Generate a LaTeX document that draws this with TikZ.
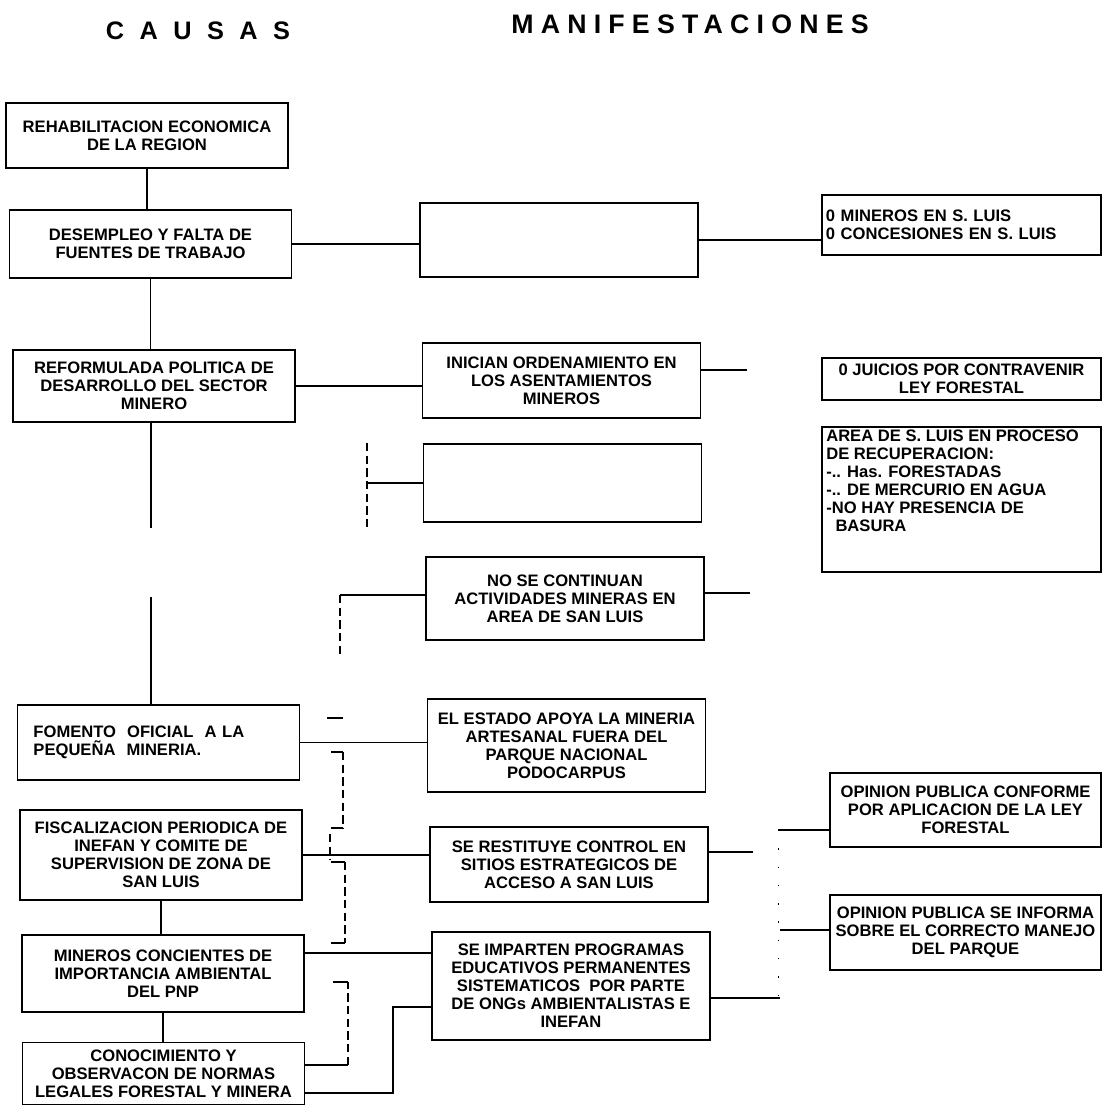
\documentclass[tikz,border=0pt]{standalone}
\usepackage{fontspec}
\setmainfont{Liberation Sans}
\usetikzlibrary{positioning,calc}

\begin{document}
\begin{tikzpicture}[
  x=0.025cm,y=-0.025cm,
  every node/.style={font=\fontsize{11.8}{12.8}\selectfont\bfseries},
  tit/.style ={font=\fontsize{18}{20}\selectfont\bfseries\addfontfeatures{LetterSpace=61}},
  tit2/.style={font=\fontsize{19}{21}\selectfont\bfseries\addfontfeatures{LetterSpace=27}},
  cau/.style ={draw,line width=1.1pt,align=center,minimum width=7.05cm,inner sep=1pt},
  man/.style ={draw,line width=1.1pt,align=center,minimum width=6.95cm,inner sep=1pt},
  ind/.style ={draw,line width=1.1pt,align=center,minimum width=6.975cm,inner sep=1pt},
  lnk/.style ={line width=0.9pt},
  brk/.style ={line width=0.9pt,dash pattern=on 6pt off 3pt},
  fnt/.style ={line width=0.7pt,dash pattern=on 1pt off 12pt}
]
\fill[white] (0,0) rectangle (1103,1106);
\useasboundingbox (0,0) rectangle (1103,1106);

\node[tit]  (tC) at (198,31) {CAUSAS};
\node[tit2] (tM) at (690,24) {MANIFESTACIONES};

\node[cau,minimum height=1.625cm] (C1) at (147,135.5) {REHABILITACION ECONOMICA\\DE LA REGION};
\node[cau,minimum height=1.7cm]   (C2) at (150.5,244) {DESEMPLEO Y FALTA DE\\FUENTES DE TRABAJO};
\node[cau,minimum height=1.8cm]   (C3) at (154,386) {REFORMULADA POLITICA DE\\DESARROLLO DEL SECTOR\\MINERO};
\node[cau,minimum height=1.875cm,align=left,text width=6.25cm,inner xsep=0.4cm]
      (C4) at (158.5,742.5) {FOMENTO\ \ OFICIAL\ \ A LA\\PEQUEÑA\ \ MINERIA.};
\node[cau,minimum height=2.25cm]  (C5) at (161,855) {FISCALIZACION PERIODICA DE\\INEFAN Y COMITE DE\\SUPERVISION DE ZONA DE\\SAN LUIS};
\node[cau,minimum height=1.925cm] (C6) at (163,973.5) {MINEROS CONCIENTES DE\\IMPORTANCIA AMBIENTAL\\DEL PNP};
\node[cau,minimum height=1.55cm]  (C7) at (163.5,1073.5) {CONOCIMIENTO Y\\OBSERVACON DE NORMAS\\LEGALES FORESTAL Y MINERA};

\node[man,minimum height=1.85cm]  (M1) at (559,240) {};
\node[man,minimum height=1.875cm] (M2) at (561.5,380.5) {INICIAN ORDENAMIENTO EN\\LOS ASENTAMIENTOS\\MINEROS};
\node[man,minimum height=1.95cm]  (M3) at (562.5,483) {};
\node[man,minimum height=2.075cm] (M4) at (565,598.5) {NO SE CONTINUAN\\ACTIVIDADES MINERAS EN\\AREA DE SAN LUIS};
\node[man,minimum height=2.325cm] (M5) at (566.5,745.5) {EL ESTADO APOYA LA MINERIA\\ARTESANAL FUERA DEL\\PARQUE NACIONAL\\PODOCARPUS};
\node[man,minimum height=1.875cm] (M6) at (569,864.5) {SE RESTITUYE CONTROL EN\\SITIOS ESTRATEGICOS DE\\ACCESO A SAN LUIS};
\node[man,minimum height=2.7cm]   (M7) at (571,986) {SE IMPARTEN PROGRAMAS\\EDUCATIVOS PERMANENTES\\SISTEMATICOS\ \ POR PARTE\\DE ONGs AMBIENTALISTAS E\\INEFAN};

\node[ind,minimum height=1.5cm,align=left,text width=6.775cm,inner xsep=0.1cm]
      (R1) at (961.5,225) {0 MINEROS EN S. LUIS\\0 CONCESIONES EN S. LUIS};
\node[ind,minimum height=1.05cm]  (R2) at (961.5,379) {0 JUICIOS POR CONTRAVENIR\\LEY FORESTAL};
\node[ind,minimum height=3.625cm] (R3) at (961.5,499.5) {};
\node[align=left,anchor=north west,inner xsep=0.12cm,inner ysep=0.08cm]
      (R3t) at (R3.north west) {AREA DE S. LUIS EN PROCESO\\DE RECUPERACION:\\-.. Has. FORESTADAS\\-.. DE MERCURIO EN AGUA\\-NO HAY PRESENCIA DE\\\ \ BASURA};
\node[ind,minimum width=6.775cm,minimum height=1.85cm]  (R4) at (965.5,810) {OPINION PUBLICA CONFORME\\POR APLICACION DE LA LEY\\FORESTAL};
\node[ind,minimum width=6.775cm,minimum height=1.875cm] (R5) at (965.5,932.5) {OPINION PUBLICA SE INFORMA\\SOBRE EL CORRECTO MANEJO\\DEL PARQUE};

\coordinate (g1) at (151,528);
\coordinate (g2) at (151,597);
\coordinate (s2) at (747,370);
\coordinate (b3) at (367,443);
\coordinate (b4) at (340,595);
\coordinate (s4) at (750,593);
\coordinate (s6) at (753,852);
\coordinate (k6) at (0,953);
\coordinate (k7a) at (393,1093);
\coordinate (k7b) at (393,1007);
\coordinate (k7c) at (348,1065);
\coordinate (s7) at (780,998);
\coordinate (r4) at (778,830);
\coordinate (r5) at (780,930);

\draw[lnk] (C1.south) -- (C1.south |- C2.north);
\draw[lnk] (C2.south) -- (C2.south |- C3.north);
\draw[lnk] (C3.south -| g1) -- (g1);
\draw[lnk] (g2) -- (g2 |- C4.north);
\draw[lnk] (C5.south) -- (C5.south |- C6.north);
\draw[lnk] (C6.south) -- (C6.south |- C7.north);

\draw[lnk] (C2.east) -- (C2.east -| M1.west);
\draw[lnk] (M1.east) -- (M1.east -| R1.west);
\draw[lnk] (C3.east) -- (C3.east -| M2.west);
\draw[lnk] (M2.east |- s2) -- (s2);
\draw[brk] (b3) -- ++(0,85);
\draw[lnk] (b3 |- M3.west) -- (M3.west);
\draw[brk] (b4) -- ++(0,62);
\draw[lnk] (b4) -- (b4 -| M4.west);
\draw[lnk] (M4.east |- s4) -- (s4);
\draw[lnk] (C4.east) -- (C4.east -| M5.west);
\draw[lnk] (C5.east) -- (C5.east -| M6.west);
\draw[lnk] (M6.east |- s6) -- (s6);
\draw[lnk] (C6.east |- k6) -- (k6 -| M7.west);
\draw[lnk] (C7.east |- k7a) -- (k7a) -- (k7b) -- (k7b -| M7.west);
\draw[lnk] (C7.east |- k7c) -- (k7c);
\draw[brk] (k7c) -- (348,982);
\draw[lnk] (348,982) -- (333,982);
\draw[lnk] (M7.east |- s7) -- (s7);
\draw[lnk] (r4) -- (r4 -| R4.west);
\draw[lnk] (r5) -- (r5 -| R5.west);
\draw[fnt] (r4) -- (r4 |- s7);

\draw[lnk] (327,718) -- (343,718);
\foreach \ya/\yb/\xx in {752/828/343, 862/943/345}{
  \draw[lnk] (331,\ya) -- (\xx,\ya);
  \draw[brk] (\xx,\ya) -- (\xx,\yb);
  \draw[lnk] (\xx,\yb) -- (331,\yb);
}
\draw[brk] (330,834) -- (330,860);
\end{tikzpicture}
\end{document}
